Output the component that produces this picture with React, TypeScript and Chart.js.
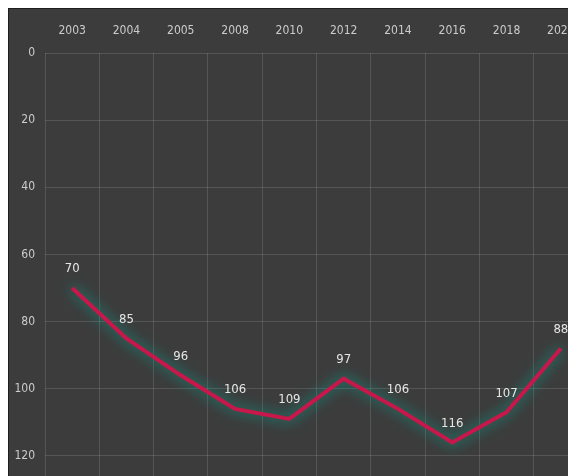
import React, { useEffect, useRef } from "react";
import { Chart, registerables } from "chart.js";

Chart.register(...registerables);

const years = ["2003", "2004", "2005", "2008", "2010", "2012", "2014", "2016", "2018", "2020"];
const values = [70, 85, 96, 106, 109, 97, 106, 116, 107, 88];
const yTicks = [0, 20, 40, 60, 80, 100, 120];

const FONT = "'Liberation Sans Narrow', 'DejaVu Sans Condensed', sans-serif";
const TEXT = "#cccccc";

const glowPlugin = {
  id: "glow",
  beforeDatasetDraw(chart: any) {
    const ctx = chart.ctx;
    ctx.save();
    ctx.shadowColor = "rgba(0, 175, 150, 0.95)";
    ctx.shadowBlur = 14;
  },
  afterDatasetDraw(chart: any) {
    chart.ctx.restore();
  },
};

const labelPlugin = {
  id: "pointLabels",
  afterDatasetsDraw(chart: any) {
    const ctx = chart.ctx;
    const meta = chart.getDatasetMeta(0);
    ctx.save();
    ctx.font = `13px ${FONT}`;
    ctx.fillStyle = "#e6e6e6";
    ctx.textAlign = "center";
    ctx.textBaseline = "middle";
    meta.data.forEach((pt: any, i: number) => {
      ctx.fillText(String(values[i]), pt.x, pt.y - 19);
    });
    ctx.restore();
  },
};

export default function App() {
  const ref = useRef<HTMLCanvasElement>(null);
  useEffect(() => {
    if (!ref.current) return;
    const chart = new Chart(ref.current, {
      type: "line",
      data: {
        labels: years,
        datasets: [
          {
            data: values,
            borderColor: "#c8174a",
            borderWidth: 4,
            pointRadius: 0,
            tension: 0,
            fill: false,
          },
        ],
      },
      options: {
        animation: false,
        responsive: false,
        maintainAspectRatio: false,
        layout: { padding: 0 },
        plugins: {
          legend: { display: false },
          tooltip: { enabled: false },
        },
        scales: {
          x: {
            type: "category",
            position: "top",
            offset: true,
            grid: {
              offset: true,
              color: "rgba(255,255,255,0.13)",
              drawTicks: false,
            },
            border: { display: false },
            ticks: {
              color: TEXT,
              font: { family: FONT, size: 12 },
              padding: 15,
              maxRotation: 0,
              autoSkip: false,
            },
            afterFit: (s: any) => {
              s.height = 44;
              s.paddingLeft = 0;
              s.paddingRight = 0;
            },
          },
          y: {
            type: "linear",
            reverse: true,
            min: 0,
            max: 126,
            grid: {
              color: "rgba(255,255,255,0.13)",
              drawTicks: false,
            },
            border: { display: false },
            ticks: {
              stepSize: 20,
              color: TEXT,
              font: { family: FONT, size: 12 },
              padding: 10,
            },
            afterBuildTicks: (s: any) => {
              s.ticks = yTicks.map((v) => ({ value: v }));
            },
            afterFit: (s: any) => {
              s.width = 36;
              s.paddingTop = 0;
              s.paddingBottom = 0;
            },
          },
        },
      },
      plugins: [glowPlugin, labelPlugin],
    });
    return () => chart.destroy();
  }, []);

  return (
    <div
      style={{
        width: 567,
        height: 467,
        overflow: "hidden",
        background: "#3c3c3c",
        borderLeft: "1px solid #1e1e1e",
        borderTop: "1px solid #1e1e1e",
      }}
    >
      <canvas ref={ref} width={579} height={467} style={{ display: "block" }} />
    </div>
  );
}
